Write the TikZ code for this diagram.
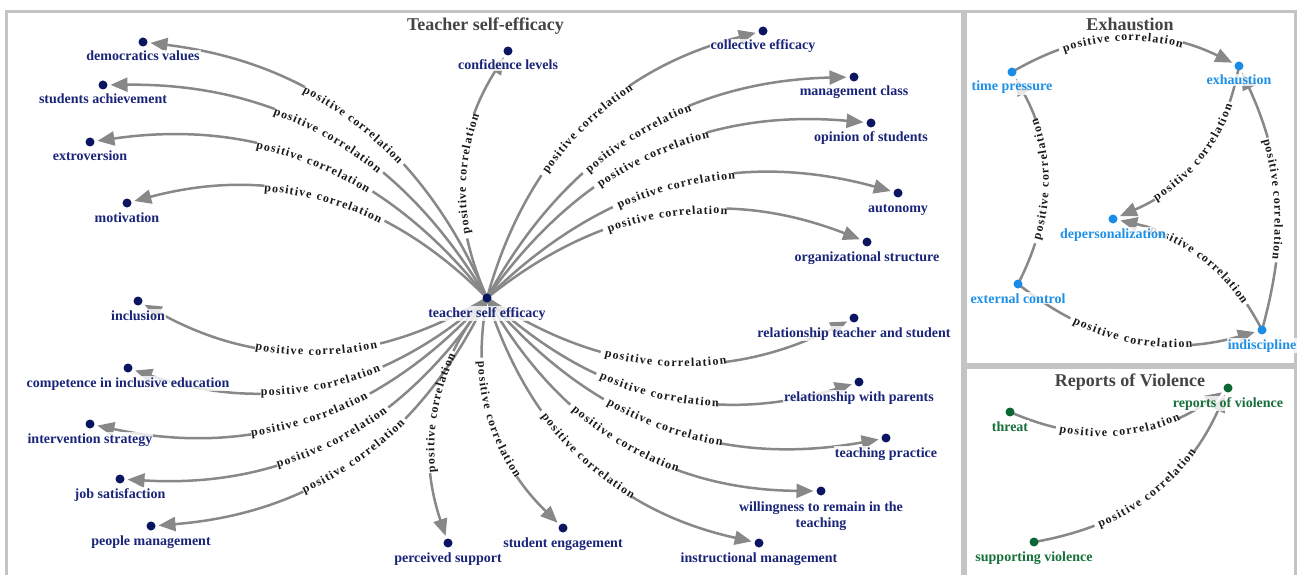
\documentclass[tikz,border=0pt]{standalone}
\usepackage{fontspec}
\setmainfont{Liberation Serif}
\usetikzlibrary{arrows.meta,calc,decorations.text}
\pgfdeclarelayer{bg}
\pgfsetlayers{bg,main}
\definecolor{navyD}{HTML}{0B1560}
\definecolor{navyT}{HTML}{1A2478}
\definecolor{blueD}{HTML}{1A8CE6}
\definecolor{blueT}{HTML}{1E90E8}
\definecolor{greenD}{HTML}{0A6632}
\definecolor{greenT}{HTML}{17703A}
\definecolor{edgegray}{HTML}{888888}
\definecolor{framegray}{HTML}{C4C4C4}
\definecolor{titlegray}{HTML}{444444}
\definecolor{lblcol}{HTML}{1A1A1A}
\newcommand\gapw{126}
\newcommand\elblfont{\bfseries\fontsize{12}{12}\selectfont\kern1.2pt}
\newcommand\nlfont{\bfseries\fontsize{14}{16}\selectfont}
\tikzset{
  frame/.style={draw=framegray, line width=3pt},
  corrline/.style={draw=edgegray, line width=2.5pt, -{Triangle[length=17pt,width=14pt]}, shorten >=2pt},
  dotbase/.style={circle, inner sep=0pt, minimum size=9pt, outer sep=1pt},
  dotN/.style={dotbase, fill=navyD},
  dotB/.style={dotbase, fill=blueD},
  dotG/.style={dotbase, fill=greenD},
  lblbase/.style={font=\nlfont, fill=white, fill opacity=0.8, text opacity=1, inner sep=1pt, anchor=base},
  lblN/.style={lblbase, text=navyT},
  lblB/.style={lblbase, text=blueT},
  lblG/.style={lblbase, text=greenT},
  title/.style={font=\bfseries\fontsize{18}{20}\selectfont, text=titlegray, anchor=base, inner sep=0pt}
}
\newcommand\corredge[4]{%
  \draw[corrline] let \p1=($(#2)-(#1)$), \n1={veclen(\x1,\y1)},
    \n2={max(0.5*((\n1-6)*rad(#4)/sin(#4)-\gapw),1)+0pt} in
    [dash pattern=on \n2 off \gapw pt on 3000pt] (#1.center) to[bend #3=#4] (#2);}
\newcommand\corrlabel[4]{%
  \path[decorate, decoration={text along path, text={|\elblfont|positive correlation}, text align=center, raise=-3.8pt, text color=lblcol}] (#1) to[bend #3=#4] (#2);}
\newcommand\corrF[4]{\corredge{#1}{#2}{#3}{#4}\corrlabel{#1.center}{#2}{#3}{#4}}
\newcommand\corrR[5]{\corredge{#1}{#2}{#3}{#4}\corrlabel{#2}{#1.center}{#5}{#4}}
\newcommand\vx[5]{\node[dot#4] (#1) at (#2,#3) {}; \node[lbl#4] at (#2,#3-19) {#5};}
\begin{document}
\begin{tikzpicture}[x=1pt,y=1pt]
\useasboundingbox (0,0) rectangle (1300,574);
\begin{pgfonlayer}{bg}
\fill[white] (0,0) rectangle (1300,574);
\draw[frame] (6.5,-10) rectangle (962,562.5);
\draw[frame] (965,209.5) rectangle (1295,562.5);
\draw[frame] (965,-10) rectangle (1295,207);
\end{pgfonlayer}
\node[title] (t1) at (485.5,543.5) {Teacher self-efficacy};
\node[title] (t2) at (1130,543) {Exhaustion};
\node[title] (t3) at (1130,188) {Reports of Violence};
% main panel
\vx{C}{487}{276}{N}{teacher self efficacy}
\vx{dv}{143}{532}{N}{democratics values}
\vx{sa}{103}{489}{N}{students achievement}
\vx{ex}{90}{432}{N}{extroversion}
\vx{mo}{127}{371}{N}{motivation}
\vx{inc}{138}{273}{N}{inclusion}
\vx{ci}{128}{206}{N}{competence in inclusive education}
\vx{is}{90}{150}{N}{intervention strategy}
\vx{js}{120}{95}{N}{job satisfaction}
\vx{pm}{151}{48}{N}{people management}
\vx{ps}{448}{31}{N}{perceived support}
\vx{se}{563}{46}{N}{student engagement}
\vx{im}{759}{31}{N}{instructional management}
\node[dotN] (wr) at (821,83) {};
\node[lblN, align=center, anchor=north] at (821,73.6) {willingness to remain in the\\teaching};
\vx{tp}{886}{136}{N}{teaching practice}
\vx{rp}{859}{192}{N}{relationship with parents}
\vx{rt}{854}{256}{N}{relationship teacher and student}
\vx{os}{867}{332}{N}{organizational structure}
\vx{au}{898}{381}{N}{autonomy}
\vx{op}{871}{451}{N}{opinion of students}
\vx{mc}{854}{497}{N}{management class}
\vx{ce}{763}{543}{N}{collective efficacy}
\vx{cl}{508}{523}{N}{confidence levels}
% exhaustion
\vx{tpr}{1012}{502}{B}{time pressure}
\vx{exh}{1239}{508}{B}{exhaustion}
\vx{dep}{1113}{355}{B}{depersonalization}
\vx{ec}{1018}{290}{B}{external control}
\vx{ind}{1262}{244}{B}{indiscipline}
% reports
\vx{thr}{1010}{162}{G}{threat}
\vx{rv}{1228}{186}{G}{reports of violence}
\vx{sv}{1034}{32}{G}{supporting violence}
\begin{pgfonlayer}{bg}
\corrR{C}{dv}{right}{30}{left}
\corrR{C}{sa}{right}{30}{left}
\corrR{C}{ex}{right}{30}{left}
\corrR{C}{mo}{right}{30}{left}
\corrR{C}{inc}{left}{30}{right}
\corrR{C}{ci}{left}{30}{right}
\corrR{C}{is}{left}{30}{right}
\corrR{C}{js}{left}{30}{right}
\corrR{C}{pm}{left}{30}{right}
\corrR{C}{ps}{right}{28}{left}
\corrF{C}{se}{right}{28}
\corrF{C}{im}{right}{30}
\corrF{C}{wr}{right}{30}
\corrF{C}{tp}{right}{30}
\corrF{C}{rp}{right}{30}
\corrF{C}{rt}{right}{30}
\corrF{C}{os}{left}{30}
\corrF{C}{au}{left}{30}
\corrF{C}{op}{left}{30}
\corrF{C}{mc}{left}{30}
\corrF{C}{ce}{left}{30}
\corrF{C}{cl}{left}{28}
\corrF{tpr}{exh}{left}{28}
\corrF{ec}{tpr}{right}{28}
\corrR{exh}{dep}{left}{28}{right}
\corrR{ind}{dep}{right}{25}{left}
\corrR{ind}{exh}{right}{20}{left}
\corrF{ec}{ind}{right}{27}
\corrF{thr}{rv}{right}{29}
\corrF{sv}{rv}{right}{28}
\end{pgfonlayer}
\end{tikzpicture}
\end{document}
